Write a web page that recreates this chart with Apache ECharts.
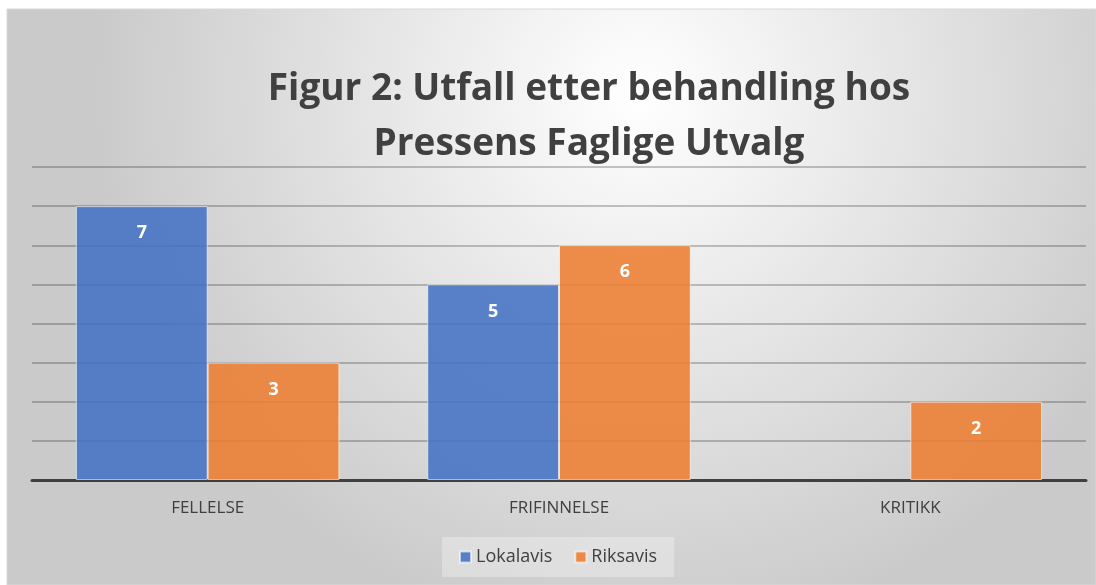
<!DOCTYPE html>
<html>
<head>
<meta charset="utf-8">
<script src="https://cdn.jsdelivr.net/npm/echarts@6/dist/echarts.min.js"></script>
<style>
  html, body { margin: 0; padding: 0; background: #fff; }
  #chart { width: 1096px; height: 585px; }
</style>
</head>
<body>
<div id="chart"></div>
<script>
// data
const categories = ['FELLELSE', 'FRIFINNELSE', 'KRITIKK'];
const lokalavis = [7, 5, 0];
const riksavis = [3, 6, 2];
const seriesNames = ['Lokalavis', 'Riksavis'];
const titleLines = ['Figur 2: Utfall etter behandling hos', 'Pressens Faglige Utvalg'];

const chart = echarts.init(document.getElementById('chart'));

// 0 is drawn as no bar at all
const asBars = (arr) => arr.map(v => (v === 0 ? null : v));

const barLabel = {
    show: true,
    position: 'insideTop',
    distance: 18,
    color: '#fff',
    fontSize: 18,
    fontWeight: 'bold',
    fontFamily: 'Open Sans'
};

const titleText = (txt, y) => ({
    type: 'text',
    x: 589,
    y: y,
    style: {
        text: txt,
        textAlign: 'center',
        textVerticalAlign: 'middle',
        fontSize: 37,
        fontWeight: 'bold',
        fontFamily: 'Open Sans',
        fill: '#404040'
    }
});

chart.setOption({
    textStyle: { fontFamily: 'Open Sans' },
    graphic: [
        {
            type: 'rect',
            z: -10,
            silent: true,
            shape: { x: 7, y: 9, width: 1089, height: 576 },
            style: {
                fill: {
                    type: 'radial',
                    x: 0.58, y: 0.15, r: 0.95,
                    colorStops: [
                        { offset: 0, color: '#ffffff' },
                        { offset: 1, color: '#cacaca' }
                    ]
                },
                stroke: '#d8d8d8',
                lineWidth: 1
            }
        },
        titleText(titleLines[0], 89),
        titleText(titleLines[1], 144)
    ],
    legend: {
        data: seriesNames,
        left: 442,
        top: 537,
        icon: 'rect',
        itemWidth: 11,
        itemHeight: 11,
        itemGap: 22,
        padding: [11, 17],
        backgroundColor: 'rgba(255,255,255,0.3)',
        textStyle: { fontSize: 18, color: '#404040', fontFamily: 'Open Sans' }
    },
    grid: { left: 32, right: 10, top: 167, bottom: 105 },
    xAxis: {
        type: 'category',
        data: categories,
        axisLine: { lineStyle: { color: '#404040', width: 3 } },
        axisTick: { show: false },
        axisLabel: { color: '#404040', fontSize: 17, margin: 20 }
    },
    yAxis: {
        type: 'value',
        min: 0,
        max: 8,
        interval: 1,
        axisLabel: { show: false },
        axisLine: { show: false },
        axisTick: { show: false },
        splitLine: { lineStyle: { color: 'rgba(0,0,0,0.22)', width: 2 } }
    },
    series: [
        {
            name: seriesNames[0],
            type: 'bar',
            data: asBars(lokalavis),
            barGap: '0%',
            barCategoryGap: '25%',
            itemStyle: { color: 'rgba(68,114,196,0.88)', borderColor: 'rgba(255,255,255,0.6)', borderWidth: 1 },
            label: barLabel
        },
        {
            name: seriesNames[1],
            type: 'bar',
            data: asBars(riksavis),
            itemStyle: { color: 'rgba(237,125,49,0.88)', borderColor: 'rgba(255,255,255,0.6)', borderWidth: 1 },
            label: barLabel
        }
    ]
});
</script>
</body>
</html>
